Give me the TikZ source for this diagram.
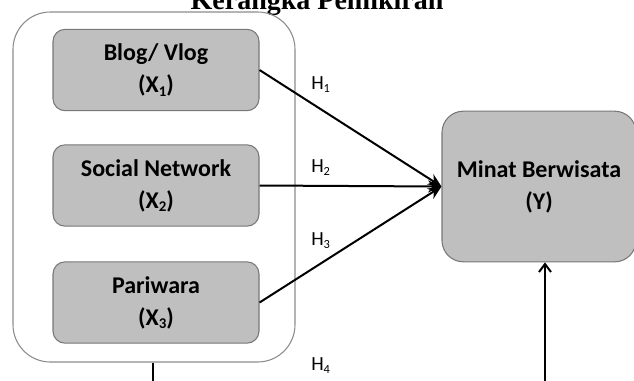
\documentclass[tikz,border=0pt]{standalone}
\usepackage{fontspec}
\setmainfont{Carlito}
\newfontfamily\titlefont{Liberation Serif}
\usetikzlibrary{arrows.meta}
\definecolor{boxfill}{RGB}{191,191,191}
\definecolor{boxline}{RGB}{120,120,120}
\definecolor{outerline}{RGB}{140,140,140}
\newcommand{\lowsub}[1]{\raisebox{-0.32ex}{\scalebox{0.62}{#1}}}
\begin{document}
\begin{tikzpicture}[x=0.75pt,y=-0.75pt,
  varbox/.style={draw=boxline,line width=0.8pt,fill=boxfill,rounded corners=9pt,
    minimum width=154.5pt,minimum height=61pt,inner sep=0pt,align=center,
    font=\fontsize{18}{24}\selectfont\bfseries},
  hlabel/.style={anchor=west,inner sep=0pt,font=\fontsize{15}{17}\selectfont},
  conn/.style={line width=1.5pt,-{Stealth[length=10pt,width=9pt]}},
  plain/.style={line width=1.5pt}]
\useasboundingbox (0,0) rectangle (634,380);
\node[anchor=base,inner sep=0pt,font=\titlefont\fontsize{21}{24}\selectfont\bfseries] (title) at (317,9) {Kerangka Pemikiran};
\node[draw=outerline,line width=0.8pt,rounded corners=28pt,minimum width=211.5pt,minimum height=262.5pt,inner sep=0pt] (outer) at (154,187) {};
\node[varbox] (x1) at (156,70) {Blog/ Vlog\\(X\lowsub{1})};
\node[varbox] (x2) at (156,185.5) {Social Network\\(X\lowsub{2})};
\node[varbox] (x3) at (156,302.5) {Pariwara\\(X\lowsub{3})};
\node[varbox,rounded corners=16pt,minimum width=145.5pt,minimum height=113pt] (y) at (539,186.5) {Minat Berwisata\\(Y)};
\draw[conn] (x1.east) -- (y.west);
\draw[conn] (x2.east) -- (y.west);
\draw[conn] (x3.east) -- (y.west);
\node[hlabel] (h1) at (311,85) {H\lowsub{1}};
\node[hlabel] (h2) at (311,168) {H\lowsub{2}};
\node[hlabel] (h3) at (311,241) {H\lowsub{3}};
\node[hlabel] (h4) at (311,366) {H\lowsub{4}};
\coordinate (ob) at (153,384);
\coordinate (yb) at (545,384);
\draw[plain] (ob |- outer.south) -- (ob);
\draw[line width=1.5pt,-{Straight Barb[length=6pt,width=9pt]}] (yb) -- (yb |- y.south);
\end{tikzpicture}
\end{document}
